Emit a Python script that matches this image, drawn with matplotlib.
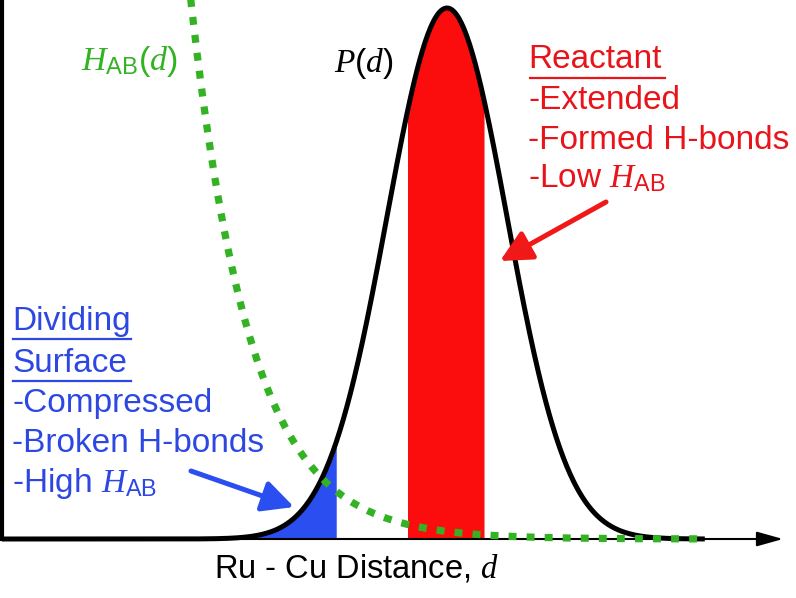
import numpy as np
import matplotlib.pyplot as plt

plt.rcParams['font.family'] = ['Liberation Sans', 'DejaVu Sans']
plt.rcParams['mathtext.fontset'] = 'custom'
plt.rcParams['mathtext.rm'] = 'Liberation Sans'
plt.rcParams['mathtext.it'] = 'Liberation Serif:italic'
plt.rcParams['mathtext.sf'] = 'Liberation Sans'

# schematic model curves (arbitrary units, d from 0 to 10)
p_center = 5.705      # peak of P(d)
p_width = 0.77        # spread of P(d)
p_height = 1.0
h_ref_d = 3.03        # H_AB(d) passes h_ref_val here
h_ref_val = 0.46
h_decay = 0.77
d_end = 9.01          # where the curves stop
ts_edge = 4.295       # right edge of dividing-surface region
reac_lo, reac_hi = 5.19, 6.19   # reactant window

blue_lines = ['Dividing', 'Surface', '-Compressed', '-Broken H-bonds',
              r'-High $H_{\mathrm{AB}}$']
red_lines = ['Reactant', '-Extended', '-Formed H-bonds', r'-Low $H_{\mathrm{AB}}$']

green = '#33b324'
red = '#fb0d0d'
blue = '#2b4ef0'
red_txt = '#e8141a'
blue_txt = '#2d47e3'

W, H = 796, 598
fig = plt.figure(figsize=(W / 100, H / 100), dpi=100)
ax = fig.add_axes([0, 0, 1, 1])
# pixel 2 -> d=0, 78 px per unit; baseline at pixel 539, 531 px per unit
ax.set_xlim(-2 / 78, (W - 2) / 78)
ax.set_ylim((539 - H) / 531, 539 / 531)
ax.set_axis_off()


def fp(x, y):
    # pixel position in the reference -> figure fraction
    return x / W, 1 - y / H


d = np.linspace(0, d_end, 800)
P = p_height * np.exp(-(d - p_center) ** 2 / (2 * p_width ** 2))
dg = np.linspace(2.3, d_end, 600)
HAB = h_ref_val * np.exp(-(dg - h_ref_d) / h_decay)

m = d <= ts_edge
ax.fill_between(d[m], 0, P[m], color=blue, lw=0, zorder=1)
m = (d >= reac_lo) & (d <= reac_hi)
ax.fill_between(d[m], 0, P[m], color=red, lw=0, zorder=1)

ax.plot(d, P, color='black', lw=3.6, solid_capstyle='butt', zorder=3)
ax.plot(dg, HAB, color=green, lw=5.2, linestyle=(0, (1.1, 1.4)),
        dash_capstyle='butt', zorder=4)

# axes: left line and bottom arrow
ax.plot([0, 0], [0, 1.1], color='black', lw=3, zorder=2, clip_on=False)
ax.annotate('', xy=fp(783, 539), xytext=fp(0, 539),
            xycoords='figure fraction', textcoords='figure fraction',
            arrowprops=dict(arrowstyle='-|>,head_length=1.0,head_width=0.28',
                            color='black', lw=1.5, mutation_scale=16,
                            shrinkA=0, shrinkB=0), zorder=2)

fs = 24
fig.text(*fp(81, 70), r'$H_{\mathrm{AB}}(d)$', color=green, fontsize=24.5,
         va='baseline', ha='left')
fig.text(*fp(334, 72), r'$P(d)$', color='black', fontsize=24,
         va='baseline', ha='left')

red_base = [68, 109, 149, 187]
for s, yb in zip(red_lines, red_base):
    fig.text(*fp(528, yb), s, color=red_txt, fontsize=fs, va='baseline', ha='left')
fig.add_artist(plt.Line2D([530 / W, 665 / W], [1 - 78 / H] * 2, color=red_txt, lw=1.6))

blue_base = [330, 372, 412, 452, 492]
for s, yb in zip(blue_lines, blue_base):
    fig.text(*fp(12, yb), s, color=blue_txt, fontsize=fs, va='baseline', ha='left')
for yu in [339, 381]:
    fig.add_artist(plt.Line2D([13 / W, 131 / W], [1 - yu / H] * 2, color=blue_txt, lw=1.6))

ax.annotate('', xy=fp(500, 261), xytext=fp(606, 202),
            xycoords='figure fraction', textcoords='figure fraction',
            arrowprops=dict(arrowstyle='-|>,head_length=1.0,head_width=0.5',
                            color='#f01818', lw=3.6, mutation_scale=19,
                            shrinkA=0, shrinkB=0), zorder=5)
ax.annotate('', xy=fp(294, 507), xytext=fp(191, 471),
            xycoords='figure fraction', textcoords='figure fraction',
            arrowprops=dict(arrowstyle='-|>,head_length=1.0,head_width=0.5',
                            color=blue, lw=3.6, mutation_scale=19,
                            shrinkA=0, shrinkB=0), zorder=5)

fig.text(*fp(356, 578), r'Ru - Cu Distance, $d$', color='black', fontsize=23.5,
         va='baseline', ha='center')

fig.savefig('out.png', dpi=100)
